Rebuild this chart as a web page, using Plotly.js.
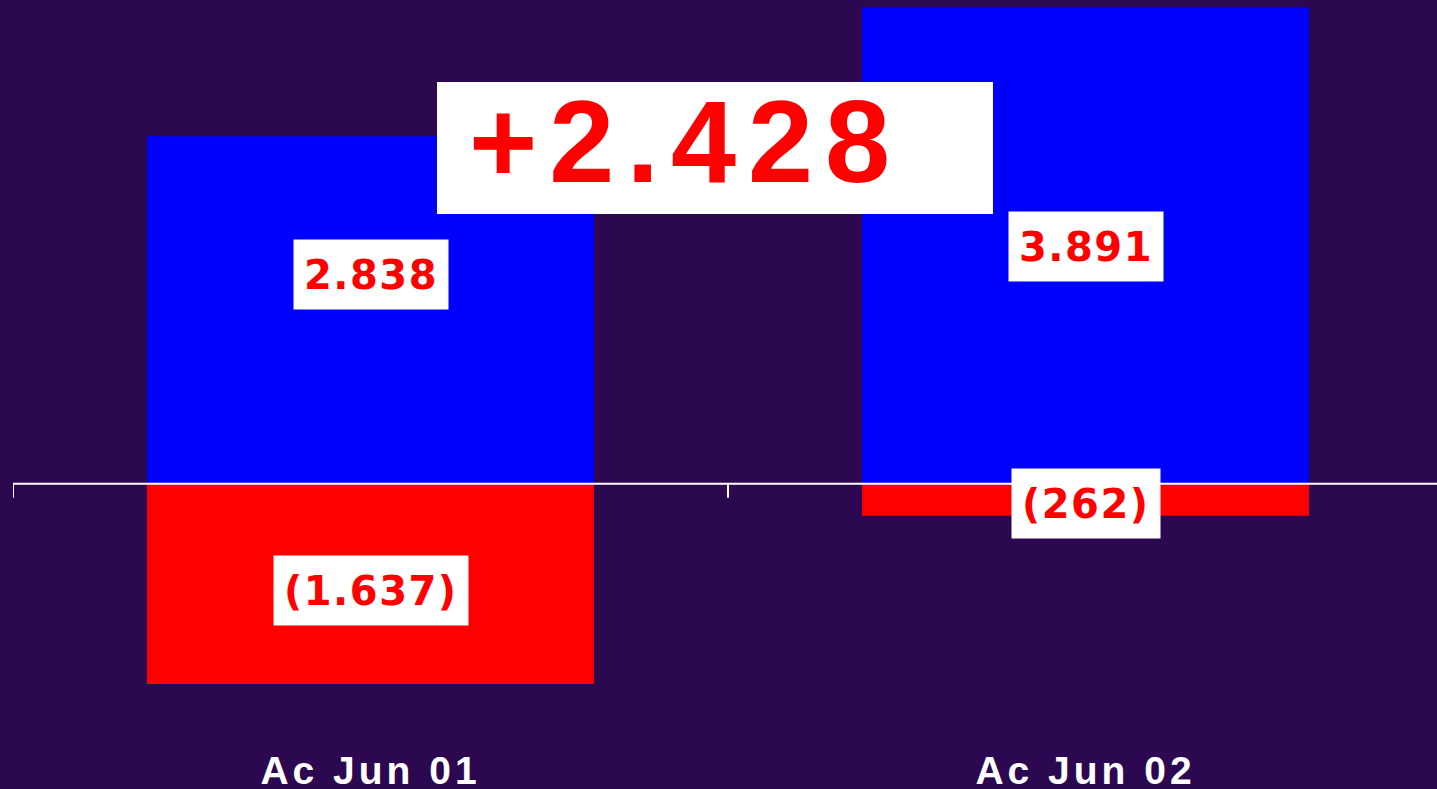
<!DOCTYPE html>
<html>
<head>
<meta charset="utf-8">
<script src="https://cdn.plot.ly/plotly-3.0.1.min.js"></script>
<style>
  html, body { margin: 0; padding: 0; background: #2B0850; overflow: hidden; }
  #chart { width: 1437px; height: 789px; }
  .xtick text { letter-spacing: 4px; }
  text.annotation-text[style*="Liberation"] { letter-spacing: 12px; }
  text.annotation-text[style*="DejaVu"] { letter-spacing: 1.5px; }
</style>
</head>
<body>
<div id="chart"></div>
<script>
// ---- data ----
const categories = ["Ac Jun 01", "Ac Jun 02"];
const positiveValues = [2838, 3891];
const negativeValues = [-1637, -262];

// ---- style / layout constants ----
const BG = "#2B0850";
const BLUE = "#0000FF";
const RED = "#FF0000";
const labelFracPos = [0.602, 0.498];
const labelFracNeg = [0.533, 0.602];

function fmt(v) {
  const s = String(Math.abs(Math.round(v))).replace(/\B(?=(\d{3})+(?!\d))/g, ".");
  return v < 0 ? "(" + s + ")" : s;
}

const net0 = positiveValues[0] + negativeValues[0];
const net1 = positiveValues[1] + negativeValues[1];
const delta = net1 - net0;
const deltaText = (delta >= 0 ? "+" : "-") + fmt(Math.abs(delta));

const traces = [
  { type: "bar", x: categories, y: positiveValues, marker: { color: BLUE }, width: 0.625, hoverinfo: "skip", showlegend: false },
  { type: "bar", x: categories, y: negativeValues, marker: { color: RED }, width: 0.625, hoverinfo: "skip", showlegend: false }
];

const annotations = [];
categories.forEach((c, i) => {
  annotations.push({
    x: i, y: positiveValues[i] * labelFracPos[i], xref: "x", yref: "y",
    text: fmt(positiveValues[i]), showarrow: false,
    font: { family: "DejaVu Sans", size: 40, color: RED, weight: "bold" },
    bgcolor: "#FFFFFF", borderpad: 10, height: 49, xanchor: "center", yanchor: "middle"
  });
  annotations.push({
    x: i, y: negativeValues[i] * labelFracNeg[i], xref: "x", yref: "y",
    text: fmt(negativeValues[i]), showarrow: false,
    font: { family: "DejaVu Sans", size: 40, color: RED, weight: "bold" },
    bgcolor: "#FFFFFF", borderpad: 10, height: 49, xanchor: "center", yanchor: "middle"
  });
});
annotations.push({
  x: 0.44, y: 2792, xref: "x", yref: "y",
  text: deltaText, showarrow: false,
  font: { family: "Liberation Sans", size: 117, color: RED, weight: "bold" },
  xanchor: "center", yanchor: "middle"
});

const shapes = [
  // big white box behind delta
  { type: "rect", xref: "x", yref: "y", x0: 0.093, x1: 0.8706, y0: 2203, y1: 3282,
    fillcolor: "#FFFFFF", line: { width: 0 }, layer: "above" },
  // zero axis line
  { type: "line", xref: "paper", yref: "y", x0: 0, x1: 1, y0: 0, y1: 0,
    line: { color: "#FFFFFF", width: 2 }, layer: "above" },
  // boundary ticks
  { type: "line", xref: "x", yref: "y", ysizemode: "pixel", yanchor: 0, x0: -0.5, x1: -0.5, y0: 0, y1: -14,
    line: { color: "#FFFFFF", width: 2 }, layer: "above" },
  { type: "line", xref: "x", yref: "y", ysizemode: "pixel", yanchor: 0, x0: 0.5, x1: 0.5, y0: 0, y1: -14,
    line: { color: "#FFFFFF", width: 2 }, layer: "above" }
];

const layout = {
  width: 1437, height: 789,
  paper_bgcolor: BG, plot_bgcolor: BG,
  margin: { l: 13, r: 0, t: 0, b: 49, pad: 0 },
  barmode: "relative",
  showlegend: false,
  xaxis: {
    type: "category", range: [-0.5, -0.5 + 1424 / 715],
    showgrid: false, zeroline: false, showline: false, ticks: "",
    tickfont: { family: "Liberation Sans", size: 39, color: "#FFFFFF", weight: "bold" },
    ticklabelstandoff: 4
  },
  yaxis: {
    range: [-2094, 3951.8], visible: false, showgrid: false, zeroline: false
  },
  annotations: annotations,
  shapes: shapes
};

Plotly.newPlot("chart", traces, layout, { staticPlot: true, displayModeBar: false });
</script>
</body>
</html>
